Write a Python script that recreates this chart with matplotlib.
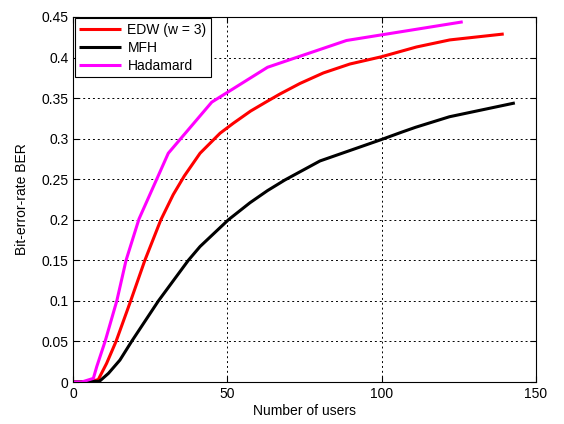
import matplotlib
matplotlib.use('Agg')
import matplotlib.pyplot as plt

plt.rcParams['font.family'] = ['Liberation Sans', 'DejaVu Sans']

# EDW (w = 3)
edw_x = [0, 5, 8.1, 10.8, 13.85, 18.6, 23.2, 28.4, 32.4, 36.0, 41.1, 47.6, 51.9, 57.5,
         62.7, 67.0, 73.5, 81.1, 89.7, 100, 111.3, 122.1, 139.6]
edw_y = [0, 0, 0.003, 0.023, 0.05, 0.1, 0.15, 0.2, 0.231, 0.254, 0.282, 0.3067, 0.319, 0.334,
         0.3456, 0.355, 0.368, 0.381, 0.392, 0.401, 0.413, 0.4217, 0.429]

# MFH
mfh_x = [0, 3, 8.5, 11.4, 15.1, 18.9, 27.6, 37.3, 41.1, 50.3, 57.3, 63, 68.6, 80, 100,
         106.5, 111, 122, 143.2]
mfh_y = [0, 0, 0.001, 0.0107, 0.027, 0.05, 0.1, 0.15, 0.167, 0.2, 0.221, 0.236, 0.249, 0.2725, 0.299,
         0.308, 0.314, 0.327, 0.344]

# Hadamard
had_x = [0, 2.7, 6.5, 7.6, 10.3, 14.1, 17.1, 21.3, 30.8, 44.9, 63.0, 88.6, 126.3]
had_y = [0, 0, 0.0045, 0.019, 0.05, 0.1, 0.15, 0.201, 0.282, 0.345, 0.388, 0.421, 0.444]

fig = plt.figure(figsize=(5.64, 4.24), dpi=100)
ax = fig.add_axes([0.130, 0.099, 0.820, 0.861])

kw = dict(lw=2.2, solid_joinstyle='round', solid_capstyle='butt')
ax.plot(edw_x, edw_y, color='#ff0000', label='EDW (w = 3)', **kw)
ax.plot(mfh_x, mfh_y, color='black', label='MFH', **kw)
ax.plot(had_x, had_y, color='#ff00ff', label='Hadamard', **kw)

ax.set_xlim(0, 150)
ax.set_ylim(0, 0.45)
ax.set_xticks([0, 50, 100, 150])
ax.set_yticks([0, 0.05, 0.1, 0.15, 0.2, 0.25, 0.3, 0.35, 0.4, 0.45])
ax.set_yticklabels(['0', '0.05', '0.1', '0.15', '0.2', '0.25', '0.3', '0.35', '0.4', '0.45'])
ax.tick_params(direction='in', top=True, right=True, labelsize=10, length=4, width=0.8)
ax.grid(True, color='black', linestyle=(0, (2, 3)), linewidth=0.7)
for s in ax.spines.values():
    s.set_linewidth(0.8)

ax.set_xlabel('Number of users', fontsize=10, labelpad=2)
ax.set_ylabel('Bit-error-rate BER', fontsize=10, labelpad=9)

leg = ax.legend(loc='upper left', fontsize=10, fancybox=False, framealpha=1,
                edgecolor='black', handlelength=3.0, borderaxespad=0.1,
                labelspacing=0.3, borderpad=0.3, handletextpad=0.5)
leg.get_frame().set_linewidth(0.8)

fig.savefig('out.png', dpi=100)
